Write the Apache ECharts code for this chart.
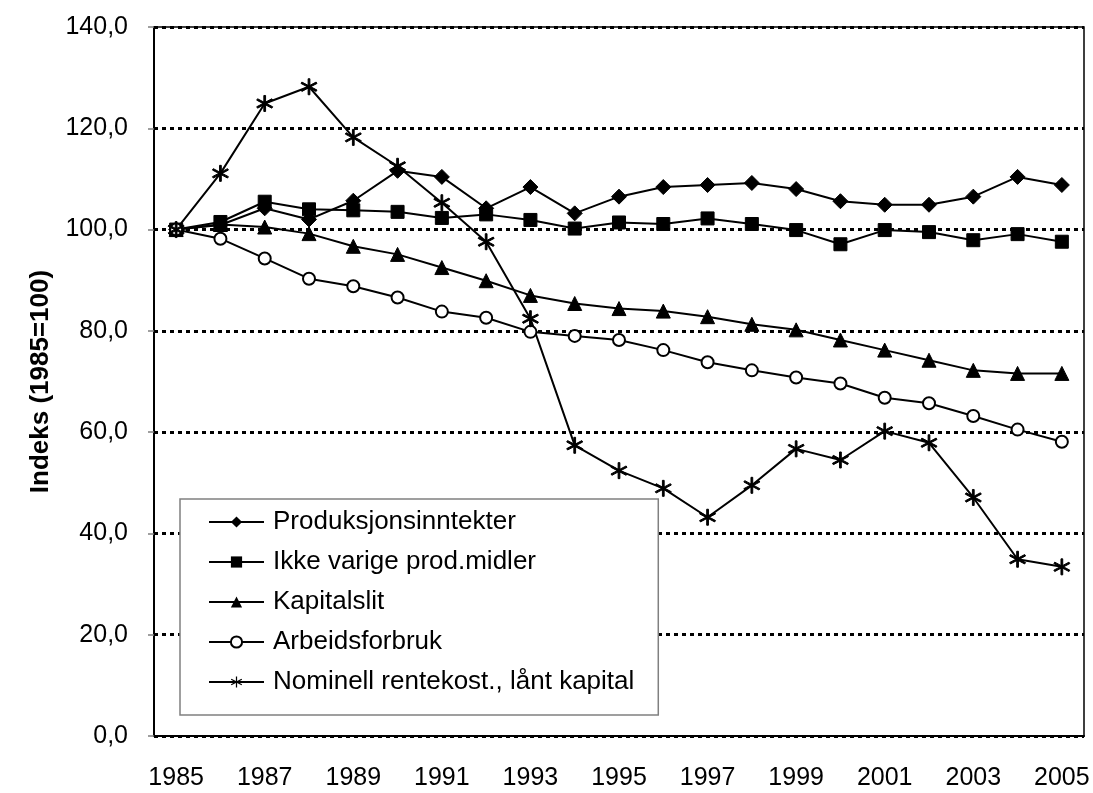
<!DOCTYPE html>
<html>
<head>
<meta charset="utf-8">
<script src="https://cdn.jsdelivr.net/npm/echarts@6/dist/echarts.min.js"></script>
<style>
  html, body { margin: 0; padding: 0; background: #fff; }
  #chart { width: 1093px; height: 793px; }
</style>
</head>
<body>
<div id="chart"></div>
<script>
var years = ['1985','1986','1987','1988','1989','1990','1991','1992','1993','1994','1995',
             '1996','1997','1998','1999','2000','2001','2002','2003','2004','2005'];
var produksjon = [100, 100.9, 104.2, 102.0, 105.7, 111.6, 110.4, 104.2, 108.4, 103.2, 106.5,
                  108.4, 108.8, 109.2, 108.0, 105.6, 104.9, 104.9, 106.5, 110.4, 108.8];
var ikkeVarige = [100, 101.5, 105.5, 104.0, 103.8, 103.5, 102.3, 103.0, 101.9, 100.2, 101.4,
                  101.1, 102.2, 101.1, 99.9, 97.1, 99.9, 99.5, 97.9, 99.1, 97.6];
var kapitalslit = [100, 101.0, 100.5, 99.2, 96.7, 95.1, 92.5, 89.9, 87.0, 85.4, 84.4,
                   83.9, 82.8, 81.3, 80.2, 78.2, 76.2, 74.2, 72.2, 71.6, 71.6];
var arbeid = [100, 98.2, 94.3, 90.3, 88.8, 86.6, 83.8, 82.6, 79.8, 79.0, 78.2,
              76.2, 73.8, 72.2, 70.8, 69.6, 66.8, 65.7, 63.2, 60.5, 58.1];
var rente = [100, 111.1, 124.9, 128.2, 118.2, 112.5, 105.3, 97.6, 82.4, 57.4, 52.4,
             48.9, 43.2, 49.5, 56.7, 54.5, 60.2, 57.9, 47.1, 34.9, 33.4];
var names = ['Produksjonsinntekter', 'Ikke varige prod.midler', 'Kapitalslit',
             'Arbeidsforbruk', 'Nominell rentekost., lånt kapital'];

// asterisk marker: three thin bars
var asterisk = 'path://M-0.8 -8L0.8 -8L0.8 8L-0.8 8Z' +
  'M6.53 4.69L7.33 3.31L-6.53 -4.69L-7.33 -3.31Z' +
  'M-6.53 4.69L-7.33 3.31L6.53 -4.69L7.33 -3.31Z';

function line(name, data, symbol, size, extra) {
    var s = {
        name: name,
        type: 'line',
        data: data,
        symbol: symbol,
        symbolSize: size,
        showSymbol: true,
        lineStyle: { color: '#000', width: 2 },
        itemStyle: { color: '#000', borderColor: '#000' }
    };
    if (extra) {
        for (var k in extra) s[k] = extra[k];
    }
    return s;
}

var option = {
    animation: false,
    backgroundColor: '#fff',
    grid: {
        left: 154, right: 9, top: 27, bottom: 57,
        show: true, borderColor: '#000', borderWidth: 1.5
    },
    legend: {
        orient: 'vertical',
        left: 180,
        top: 499,
        backgroundColor: '#fff',
        borderColor: '#808080',
        borderWidth: 1.5,
        padding: [10, 24, 20, 28],
        itemGap: 14,
        itemWidth: 55,
        itemHeight: 14,
        textStyle: {
            fontFamily: 'Liberation Sans, Arial, sans-serif',
            fontSize: 26,
            color: '#000',
            padding: [0, 0, 0, 4]
        },
        data: names
    },
    xAxis: {
        type: 'category',
        data: years,
        boundaryGap: true,
        axisLine: { lineStyle: { color: '#000', width: 2 } },
        axisTick: { interval: 0, length: 7, lineStyle: { color: '#000', width: 1 } },
        axisLabel: {
            interval: 1,
            margin: 30,
            color: '#000',
            fontSize: 25,
            fontFamily: 'Liberation Sans, Arial, sans-serif'
        },
        splitLine: { show: false }
    },
    yAxis: {
        type: 'value',
        min: 0,
        max: 140,
        interval: 20,
        name: 'Indeks (1985=100)',
        nameLocation: 'middle',
        nameGap: 100,
        nameTextStyle: {
            fontFamily: 'Liberation Sans, Arial, sans-serif',
            fontWeight: 'bold',
            fontSize: 26,
            color: '#000'
        },
        axisLine: { show: true, lineStyle: { color: '#000', width: 2 } },
        axisTick: { show: true, length: 6, lineStyle: { color: '#808080', width: 1.5 } },
        axisLabel: {
            margin: 26,
            color: '#000',
            fontSize: 25,
            fontFamily: 'Liberation Sans, Arial, sans-serif',
            formatter: function (v) { return v.toFixed(1).replace('.', ','); }
        },
        splitLine: { show: true, lineStyle: { color: '#000', width: 3, type: [4, 4] } }
    },
    series: [
        line(names[0], produksjon, 'diamond', 15),
        line(names[1], ikkeVarige, 'rect', 13),
        line(names[2], kapitalslit, 'triangle', 14),
        line(names[3], arbeid, 'emptyCircle', 12, {
            itemStyle: { color: '#000', borderColor: '#000', borderWidth: 1.5 }
        }),
        line(names[4], rente, asterisk, 16)
    ]
};

var chart = echarts.init(document.getElementById('chart'));
chart.setOption(option);
</script>
</body>
</html>
